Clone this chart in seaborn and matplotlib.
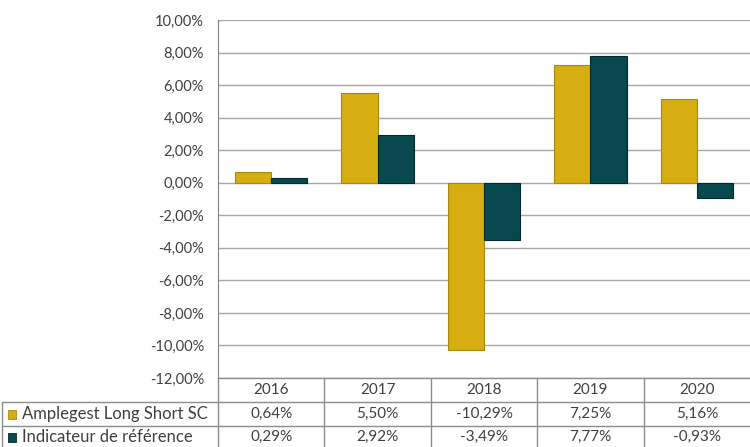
import pandas as pd
import matplotlib.pyplot as plt
import seaborn as sns

years = ['2016', '2017', '2018', '2019', '2020']
fund = [0.64, 5.50, -10.29, 7.25, 5.16]
bench = [0.29, 2.92, -3.49, 7.77, -0.93]
series_names = ['Amplegest Long Short SC', 'Indicateur de référence']
colors = ['#D6AE12', '#07494F']
edge_colors = ['#A9890C', '#03292C']

df = pd.DataFrame({
    'year': years * 2,
    'value': fund + bench,
    'serie': [series_names[0]] * len(years) + [series_names[1]] * len(years),
})

sns.set_style('white')
plt.rcParams['font.family'] = ['Lato', 'DejaVu Sans']
txt_color = '#404040'
grid_color = '#A8A8A8'

fig = plt.figure(figsize=(7.5, 4.47), dpi=100)
W, H = 750, 447
ax = fig.add_axes([218 / W, 1 - 378 / H, 532 / W, 358 / H])

sns.barplot(data=df, x='year', y='value', hue='serie', order=years,
            hue_order=series_names, palette=colors, saturation=1, width=0.68,
            ax=ax, legend=False, zorder=3)
for i, cont in enumerate(ax.containers):
    for b in cont:
        b.set_edgecolor(edge_colors[i])
        b.set_linewidth(0.8)

ax.set_xlim(-0.5, len(years) - 0.5)
ax.set_ylim(-12, 10)
ax.set_yticks(range(-12, 11, 2))
ax.set_yticklabels([f'{v:.2f}'.replace('.', ',') + '%' for v in range(-12, 11, 2)],
                   fontsize=10.5, color=txt_color)
ax.tick_params(axis='y', length=0, pad=10)
ax.set_xticks([])
ax.set_xlabel('')
ax.set_ylabel('')
ax.yaxis.grid(True, color=grid_color, linewidth=1, zorder=0)
for s in ['top', 'right', 'bottom']:
    ax.spines[s].set_visible(False)
ax.spines['left'].set_color('#808080')

# data table below the plot
tab = fig.add_axes([0, 0, 1, 1])
tab.set_xlim(0, W)
tab.set_ylim(H, 0)
tab.axis('off')
line_kw = dict(color='#8C8C8C', linewidth=1)
x0, x1 = 218, 750
cw = (x1 - x0) / len(years)
tab.plot([x0, x1], [378, 378], **line_kw)
tab.plot([2, x1], [402, 402], **line_kw)
tab.plot([2, x1], [426, 426], **line_kw)
tab.plot([2, 2], [402, 447], **line_kw)
for k in range(len(years)):
    tab.plot([x0 + k * cw] * 2, [378, 447], **line_kw)

def pct(v):
    return f'{v:.2f}'.replace('.', ',') + '%'

for k, y in enumerate(years):
    cx = x0 + (k + 0.5) * cw
    tab.text(cx, 390, y, ha='center', va='center', fontsize=11, color=txt_color)
    tab.text(cx, 414, pct(fund[k]), ha='center', va='center', fontsize=11, color=txt_color)
    tab.text(cx, 437, pct(bench[k]), ha='center', va='center', fontsize=11, color=txt_color)

for r, (name, c, yc) in enumerate(zip(series_names, colors, [414, 437])):
    tab.add_patch(plt.Rectangle((8, yc - 4.5), 8, 9, facecolor=c, edgecolor=edge_colors[r], lw=0.6))
    tab.text(22, yc, name, ha='left', va='center', fontsize=12, color=txt_color)

fig.savefig('out.png', dpi=100)
